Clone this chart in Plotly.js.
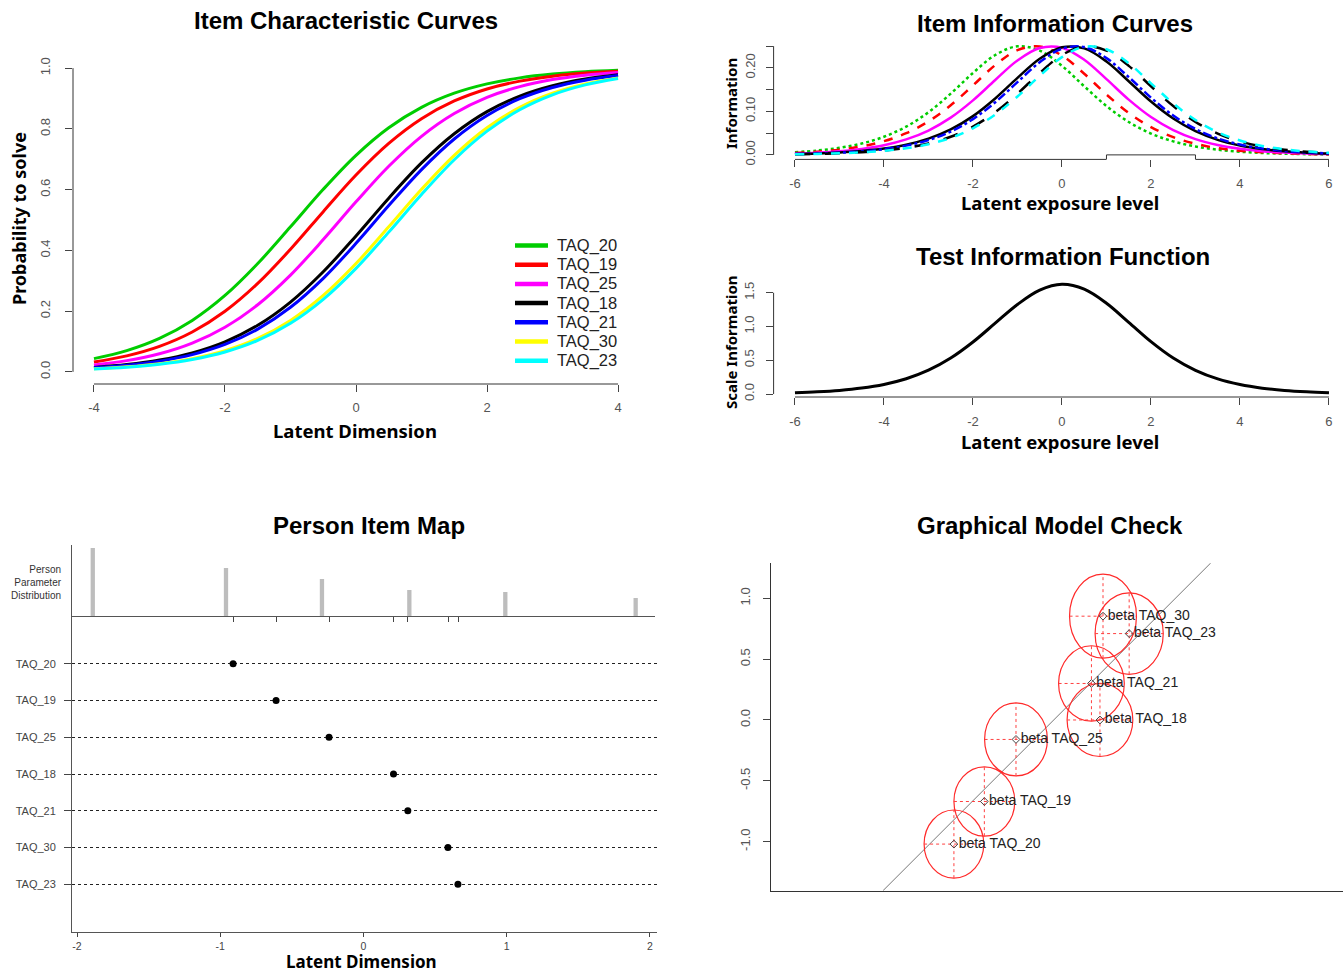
<!DOCTYPE html>
<html><head><meta charset="utf-8">
<script src="https://cdn.plot.ly/plotly-3.0.1.min.js"></script>
<style>html,body{margin:0;padding:0;background:#fff}#chart{width:1343px;height:976px}</style>
</head><body><div id="chart"></div>
<script>
// ---------------- DATA ----------------
const itemNames = ['TAQ_20','TAQ_19','TAQ_25','TAQ_18','TAQ_21','TAQ_30','TAQ_23'];

// Item characteristic curves (probability to solve)
const iccTheta = [-4,-3.5,-3,-2.5,-2,-1.5,-1,-0.5,0,0.5,1,1.5,2,2.5,3,3.5,4];
const probTAQ20 = [0.0435,0.0698,0.1101,0.1694,0.2516,0.3566,0.4775,0.6011,0.7130,0.8038,0.8710,0.9176,0.9483,0.9680,0.9804,0.9880,0.9927];
const probTAQ19 = [0.0326,0.0527,0.0839,0.1312,0.1994,0.2911,0.4037,0.5275,0.6479,0.7521,0.8334,0.8919,0.9315,0.9573,0.9737,0.9839,0.9901];
const probTAQ25 = [0.0228,0.0370,0.0595,0.0945,0.1468,0.2210,0.3186,0.4354,0.5597,0.6770,0.7756,0.8507,0.9038,0.9393,0.9623,0.9768,0.9858];
const probTAQ18 = [0.0146,0.0239,0.0388,0.0624,0.0989,0.1532,0.2297,0.3296,0.4477,0.5720,0.6879,0.7841,0.8569,0.9080,0.9421,0.9641,0.9779];
const probTAQ21 = [0.0133,0.0217,0.0352,0.0568,0.0903,0.1406,0.2125,0.3079,0.4231,0.5474,0.6660,0.7668,0.8442,0.8994,0.9364,0.9604,0.9756];
const probTAQ30 = [0.0101,0.0165,0.0269,0.0435,0.0698,0.1101,0.1694,0.2516,0.3566,0.4775,0.6011,0.7130,0.8038,0.8710,0.9176,0.9483,0.9680];
const probTAQ23 = [0.0094,0.0154,0.0251,0.0407,0.0654,0.1034,0.1598,0.2387,0.3407,0.4601,0.5842,0.6985,0.7925,0.8630,0.9121,0.9448,0.9658];

// Item information curves
const infoTheta = [-6,-5.5,-5,-4.5,-4,-3.5,-3,-2.5,-2,-1.5,-1,-0.5,0,0.5,1,1.5,2,2.5,3,3.5,4,4.5,5,5.5,6];
const infoTAQ20 = [0.0061,0.0100,0.0162,0.0261,0.0416,0.0649,0.0980,0.1407,0.1883,0.2295,0.2495,0.2398,0.2046,0.1577,0.1123,0.0757,0.0490,0.0310,0.0193,0.0119,0.0073,0.0044,0.0027,0.0016,0.0010];
const infoTAQ19 = [0.0045,0.0074,0.0118,0.0196,0.0315,0.0499,0.0769,0.1140,0.1596,0.2063,0.2407,0.2492,0.2282,0.1865,0.1388,0.0964,0.0638,0.0408,0.0256,0.0154,0.0096,0.0060,0.0036,0.0022,0.0013];
const infoTAQ25 = [0.0031,0.0051,0.0084,0.0137,0.0222,0.0356,0.0560,0.0856,0.1253,0.1721,0.2171,0.2458,0.2464,0.2187,0.1741,0.1270,0.0870,0.0570,0.0363,0.0227,0.0140,0.0086,0.0052,0.0032,0.0019];
const infoTAQ18 = [0.0020,0.0033,0.0054,0.0088,0.0144,0.0233,0.0373,0.0585,0.0891,0.1297,0.1769,0.2210,0.2472,0.2448,0.2147,0.1693,0.1226,0.0835,0.0545,0.0346,0.0216,0.0133,0.0082,0.0050,0.0030];
const infoTAQ21 = [0.0018,0.0030,0.0049,0.0080,0.0131,0.0212,0.0340,0.0536,0.0822,0.1209,0.1673,0.2131,0.2441,0.2478,0.2225,0.1788,0.1315,0.0905,0.0595,0.0380,0.0238,0.0147,0.0090,0.0055,0.0034];
const infoTAQ30 = [0.0014,0.0023,0.0037,0.0061,0.0100,0.0162,0.0261,0.0416,0.0649,0.0980,0.1407,0.1883,0.2295,0.2495,0.2398,0.2046,0.1577,0.1123,0.0757,0.0490,0.0310,0.0193,0.0119,0.0073,0.0044];
const infoTAQ23 = [0.0013,0.0021,0.0035,0.0057,0.0093,0.0151,0.0245,0.0390,0.0611,0.0927,0.1342,0.1817,0.2246,0.2484,0.2429,0.2106,0.1645,0.1183,0.0802,0.0521,0.0331,0.0206,0.0127,0.0078,0.0047];

// Test information function
const testInfo = [0.0202,0.0332,0.0539,0.0880,0.1421,0.2262,0.3528,0.5330,0.7705,1.0492,1.3264,1.5389,1.6246,1.5534,1.3451,1.0624,0.7761,0.5334,0.3511,0.2237,0.1404,0.0869,0.0533,0.0326,0.0197];

// Person item map
const itemLocations = [-0.91,-0.61,-0.24,0.21,0.31,0.59,0.66];
const itemRows = [1,2,3,4,5,6,7];
const personLevels = [-1.89,-0.96,-0.29,0.32,0.99,1.90];
const personFreq = [34,24,18.5,13,12,9];

// Graphical model check
const betaX = [-0.82,-0.57,-0.31,0.38,0.31,0.405,0.62];
const betaY = [-1.02,-0.67,-0.16,0.00,0.30,0.853,0.71];
const ciHalfX = [0.245,0.25,0.258,0.27,0.27,0.275,0.28];
const ciHalfY = [0.28,0.285,0.30,0.30,0.31,0.345,0.335];

// tick labels
const iccXTicks = [-4,-2,0,2,4];
const iccXText = ['-4','-2','0','2','4'];
const iccYTicks = [0,0.2,0.4,0.6,0.8,1.0];
const iccYText = ['0.0','0.2','0.4','0.6','0.8','1.0'];
const infoXTicks = [-6,-4,-2,0,2,4,6];
const infoXText = ['-6','-4','-2','0','2','4','6'];
const infoYTicks = [0,0.05,0.10,0.15,0.20,0.25];
const infoYText = ['0.00','','0.10','','0.20',''];
const tifYTicks = [0,0.5,1.0,1.5];
const tifYText = ['0.0','0.5','1.0','1.5'];
const pimXTicks = [-2,-1,0,1,2];
const pimXText = ['-2','-1','0','1','2'];
const gmcYTicks = [-1,-0.5,0,0.5,1];
const gmcYText = ['-1.0','-0.5','0.0','0.5','1.0'];

// ---------------- STYLE ----------------
const W = 1343, H = 976;
const FONT = 'Liberation Sans, Arial, sans-serif';
const TFONT = 'Noto Sans, Open Sans, sans-serif';
const iccColors = ['#00CD00','#FF0000','#FF00FF','#000000','#0000FF','#FFFF00','#00FFFF'];
const infoColors = ['#00CD00','#FF0000','#FF00FF','#000000','#0000FF','#000000','#00FFFF'];
const infoDash = ['dot','dash','solid','solid','dashdot','longdash','dash'];
const probSeries = [probTAQ20,probTAQ19,probTAQ25,probTAQ18,probTAQ21,probTAQ30,probTAQ23];
const infoSeries = [infoTAQ20,infoTAQ19,infoTAQ25,infoTAQ18,infoTAQ21,infoTAQ30,infoTAQ23];

const dx = (l, r) => [l / W, r / W];
const dy = (t, b) => [1 - b / H, 1 - t / H];
const px = x => x / W;
const py = y => 1 - y / H;

const tickFont = {family: FONT, size: 13, color: '#555'};
function baseAxis(extra) {
  return Object.assign({showgrid:false, zeroline:false, showline:false, ticks:'outside',
    ticklen:7, tickwidth:1, tickcolor:'#444', tickfont:tickFont, fixedrange:true}, extra);
}

const traces = [];
// ICC
probSeries.forEach((s, i) => traces.push({
  type:'scatter', mode:'lines', x:iccTheta, y:s, name:itemNames[i], xaxis:'x', yaxis:'y',
  line:{color:iccColors[i], width:3, shape:'spline'}, showlegend:false, hoverinfo:'skip'
}));
// Item info
infoSeries.forEach((s, i) => traces.push({
  type:'scatter', mode:'lines', x:infoTheta, y:s, name:itemNames[i], xaxis:'x2', yaxis:'y2',
  line:{color:infoColors[i], width:2.5, dash:infoDash[i], shape:'spline'}, showlegend:false, hoverinfo:'skip'
}));
// Test info
traces.push({type:'scatter', mode:'lines', x:infoTheta, y:testInfo, xaxis:'x3', yaxis:'y3',
  line:{color:'#000', width:3, shape:'spline'}, showlegend:false, hoverinfo:'skip'});
// Person parameter distribution
traces.push({type:'bar', x:personLevels, y:personFreq, xaxis:'x4', yaxis:'y4', width:0.03,
  marker:{color:'#BDBDBD', line:{width:0}}, showlegend:false, hoverinfo:'skip'});
// Item locations
traces.push({type:'scatter', mode:'markers', x:itemLocations, y:itemRows, xaxis:'x5', yaxis:'y5',
  marker:{color:'#000', size:7}, showlegend:false, hoverinfo:'skip'});
// Graphical model check points
traces.push({type:'scatter', mode:'markers+text', x:betaX, y:betaY, xaxis:'x6', yaxis:'y6',
  text:itemNames.map(n => 'beta ' + n), textposition:'middle right',
  textfont:{family:FONT, size:14, color:'#222'}, cliponaxis:false,
  marker:{symbol:'diamond-open', size:6, color:'#444', line:{width:1}}, showlegend:false, hoverinfo:'skip'});

const axLine = {color:'#333', width:1};
const shapes = [
  // ICC axes (R style: only over tick range)
  {type:'line', xref:'x', yref:'y domain', x0:-4, x1:4, y0:0, y1:0, line:axLine},
  {type:'line', xref:'x domain', yref:'y', x0:0, x1:0, y0:0, y1:1, line:axLine},
  // Info axes
  {type:'line', xref:'x2', yref:'y2 domain', x0:-6, x1:1, y0:0, y1:0, line:axLine},
  {type:'line', xref:'x2', yref:'y2 domain', x0:3, x1:6, y0:0, y1:0, line:axLine},
  {type:'path', xref:'x2', yref:'y2', path:'M 1 -0.0104 L 1 0 L 3 0 L 3 -0.0104', line:axLine},
  {type:'line', xref:'x2 domain', yref:'y2', x0:0, x1:0, y0:0, y1:0.25, line:axLine},
  // TIF axes
  {type:'line', xref:'x3', yref:'y3 domain', x0:-6, x1:6, y0:0, y1:0, line:axLine},
  {type:'line', xref:'x3 domain', yref:'y3', x0:0, x1:0, y0:0, y1:1.5, line:axLine},
  // GMC identity line
  {type:'line', xref:'x6', yref:'y6', x0:-1.403, y0:-1.403, x1:1.29, y1:1.29, line:{color:'#777', width:1}, layer:'below'}
];
betaX.forEach((bx, i) => {
  const by = betaY[i], sx = ciHalfX[i], sy = ciHalfY[i];
  shapes.push({type:'circle', xref:'x6', yref:'y6', x0:bx - sx, x1:bx + sx, y0:by - sy, y1:by + sy,
    line:{color:'#FF2A2A', width:1.2}, layer:'below'});
  shapes.push({type:'line', xref:'x6', yref:'y6', x0:bx - sx, x1:bx + sx, y0:by, y1:by,
    line:{color:'#FF4040', width:1, dash:'dot'}, layer:'below'});
  shapes.push({type:'line', xref:'x6', yref:'y6', x0:bx, x1:bx, y0:by - sy, y1:by + sy,
    line:{color:'#FF4040', width:1, dash:'dot'}, layer:'below'});
});

function ann(text, x, y, size, extra, family) {
  return Object.assign({xref:'paper', yref:'paper', x:px(x), y:py(y), text:text, showarrow:false,
    xanchor:'center', yanchor:'middle', font:{family:family || FONT, size:size, color:'#000'}}, extra || {});
}
const annotations = [
  ann('<b>Item Characteristic Curves</b>', 346, 21, 24),
  ann('<b>Latent Dimension</b>', 355, 431, 18.5, null, TFONT),
  ann('<b>Probability to solve</b>', 19, 219, 18, {textangle:-90}, TFONT),
  ann('<b>Item Information Curves</b>', 1055, 23, 24),
  ann('<b>Information</b>', 731, 104, 15, {textangle:-90}, TFONT),
  ann('<b>Latent exposure level</b>', 1060, 203, 18.5, null, TFONT),
  ann('<b>Test Information Function</b>', 1063, 257, 24),
  ann('<b>Scale Information</b>', 731, 342, 15, {textangle:-90}, TFONT),
  ann('<b>Latent exposure level</b>', 1060, 442, 18.5, null, TFONT),
  ann('<b>Person Item Map</b>', 369, 525, 24),
  ann('Person<br>Parameter<br>Distribution', 64, 582, 10, {xanchor:'right', align:'right', font:{family:FONT, size:10, color:'#333'}}),
  ann('<b>Latent Dimension</b>', 361, 975, 17, {yanchor:'bottom'}, TFONT),
  ann('<b>Graphical Model Check</b>', 1050, 525, 24)
];

// Manual legend for the item characteristic curves (R-style spacing)
const legendTop = 245.5, legendStep = 19.2;
itemNames.forEach((n, i) => {
  const yy = legendTop + i * legendStep;
  shapes.push({type:'line', xref:'paper', yref:'paper', x0:px(515), x1:px(548), y0:py(yy), y1:py(yy),
    line:{color:iccColors[i], width:4.5}});
  annotations.push({xref:'paper', yref:'paper', x:px(555), y:py(yy), text:n, showarrow:false,
    xanchor:'left', yanchor:'middle', font:{family:FONT, size:16.5, color:'#222'}});
});

const layout = {
  width:W, height:H, margin:{l:0, r:0, t:0, b:0}, paper_bgcolor:'#fff', plot_bgcolor:'rgba(0,0,0,0)',
  showlegend:false, font:{family:FONT},
  // ICC
  xaxis: baseAxis({domain:dx(73,639), range:[-4.32,4.32], tickvals:iccXTicks, ticktext:iccXText, ticklabelstandoff:4, anchor:'y'}),
  yaxis: baseAxis({domain:dy(56,384), range:[-0.04,1.04], tickvals:iccYTicks, ticktext:iccYText, tickangle:-90, ticklabelstandoff:10, anchor:'x'}),
  // Item information
  xaxis2: baseAxis({domain:dx(773.6,1343), range:[-6.48,6.315], tickvals:infoXTicks, ticktext:infoXText, ticklabelstandoff:5, anchor:'y2'}),
  yaxis2: baseAxis({domain:dy(41.6,159.4), range:[-0.0104,0.2604], tickvals:infoYTicks, ticktext:infoYText, tickangle:-90, ticklabelstandoff:5, anchor:'x2'}),
  // Test information
  xaxis3: baseAxis({domain:dx(773.6,1343), range:[-6.48,6.315], tickvals:infoXTicks, ticktext:infoXText, ticklabelstandoff:5, anchor:'y3'}),
  yaxis3: baseAxis({domain:dy(280,397), range:[-0.044,1.689], tickvals:tifYTicks, ticktext:tifYText, tickangle:-90, ticklabelstandoff:6, anchor:'x3'}),
  // Person parameter distribution
  xaxis4: baseAxis({domain:dx(72,655), range:[-2.035,2.035], tickvals:itemLocations, ticklen:5, showticklabels:false,
    showline:true, linecolor:'#555', anchor:'y4'}),
  yaxis4: baseAxis({domain:dy(545,616), range:[0,35.5], showline:true, linecolor:'#555', ticks:'', showticklabels:false, anchor:'x4'}),
  // Item map
  xaxis5: baseAxis({domain:dx(72,657), range:[-2.035,2.05], tickvals:pimXTicks, ticktext:pimXText, ticklen:4, showline:true, linecolor:'#555',
    tickfont:{family:FONT, size:10.5, color:'#444'}, anchor:'y5'}),
  yaxis5: baseAxis({domain:dy(616,932), range:[8.3,-0.3], tickvals:itemRows, ticktext:itemNames, ticklen:7, ticklabelstandoff:6, showline:true,
    linecolor:'#555', showgrid:true, gridcolor:'#222', griddash:'dot', gridwidth:1,
    tickfont:{family:FONT, size:11, color:'#444'}, anchor:'x5'}),
  // Graphical model check
  xaxis6: baseAxis({domain:dx(771,1343), range:[-2.323,2.377], showline:true, linecolor:'#333', ticks:'', showticklabels:false, anchor:'y6'}),
  yaxis6: baseAxis({domain:dy(563,890.7), range:[-1.403,1.29], tickvals:gmcYTicks, ticktext:gmcYText, tickangle:-90, ticklabelstandoff:8,
    showline:true, linecolor:'#333', anchor:'x6'}),
  shapes:shapes,
  annotations:annotations
};

Plotly.newPlot('chart', traces, layout, {displayModeBar:false, staticPlot:true});
</script>
</body></html>
